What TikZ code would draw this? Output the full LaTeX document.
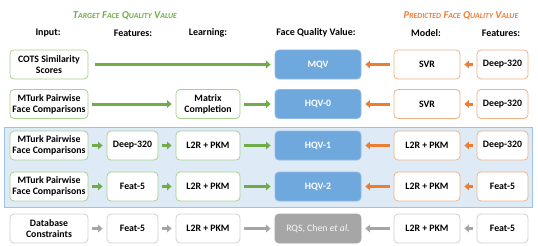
\documentclass[tikz,border=0pt]{standalone}
\usepackage{fontspec}
\setmainfont{Carlito}
\usetikzlibrary{arrows.meta,positioning}

\definecolor{grnline}{HTML}{70AD47}
\definecolor{grnbox}{HTML}{A9D18E}
\definecolor{orgline}{HTML}{ED7D31}
\definecolor{orgbox}{HTML}{F4B183}
\definecolor{bluebox}{HTML}{6FA8DC}
\definecolor{bluepanel}{HTML}{DEEBF7}
\definecolor{blueedge}{HTML}{9DC3E6}
\definecolor{gryline}{HTML}{A5A5A5}
\definecolor{grybox}{HTML}{D0D0D0}
\definecolor{gryfill}{HTML}{A6A6A6}

\newcommand{\fsc}[2]{#1{\fontsize{7.8}{8}\selectfont #2}}

\tikzset{
  box/.style={draw,rounded corners=4pt,fill=white,line width=0.8pt,
    minimum height=29pt,align=center,inner sep=1pt,
    font=\fontsize{9.8}{11}\selectfont\bfseries},
  gbox/.style={box,draw=grnbox},
  obox/.style={box,draw=orgbox},
  wbox/.style={box,draw=grybox},
  qbox/.style={box,draw=blueedge!70!bluebox,fill=bluebox,text=white,
    minimum width=86pt},
  rbox/.style={box,draw=gryfill,fill=gryfill,text=white!92!gryfill,
    minimum width=86pt,font=\fontsize{9.8}{11}\selectfont},
  blk/.style={-{Triangle[length=4.5pt,width=7.5pt]},line width=3pt,
    shorten >=4pt,shorten <=4pt},
  garrow/.style={blk,grnline},
  oarrow/.style={blk,orgline},
  warrow/.style={blk,gryline},
  head/.style={font=\fontsize{10}{12}\selectfont\bfseries},
  title/.style={font=\fontsize{10.5}{12}\selectfont\bfseries\itshape}
}

\begin{document}
\begin{tikzpicture}[x=1pt,y=-1pt]
  \useasboundingbox (0,0) rectangle (538,246);
  % highlighted panel
  \fill[bluepanel] (4,127) rectangle (532,207);
  \draw[blueedge,line width=0.7pt] (4,127) rectangle (532,207);

  % titles and column heads
  \node[title,text=grnline] (tgt) at (125,16) {\fsc{T}{ARGET} \fsc{F}{ACE} \fsc{Q}{UALITY} \fsc{V}{ALUE}};
  \node[title,text=orgline] (pred) at (461,16) {\fsc{P}{REDICTED} \fsc{F}{ACE} \fsc{Q}{UALITY} \fsc{V}{ALUE}};
  \node[head] (hin) at (48,33) {Input:};
  \node[head] (hfeat) at (133,33) {Features:};
  \node[head] (hlearn) at (208,33) {Learning:};
  \node[head] (hfqv) at (316,33) {Face Quality Value:};
  \node[head] (hmodel) at (426,33) {Model:};
  \node[head] (hpfeat) at (501,33) {Features:};

  % row 1
  \node[gbox,minimum width=78pt] (in1) at (49,64.5) {COTS Similarity\\Scores};
  \node[qbox] (q1) at (318,64.5) {MQV};
  \node[obox,minimum width=66pt] (m1) at (427,64.5) {SVR};
  \node[obox,minimum width=51pt] (f1) at (502.5,64.5) {Deep-320};
  \draw[garrow,shorten <=7pt] (in1) -- (q1);
  \draw[oarrow] (m1) -- (q1);
  \draw[oarrow] (f1) -- (m1);

  % row 2
  \node[gbox,minimum width=78pt] (in2) at (49,104) {MTurk Pairwise\\Face Comparisons};
  \node[gbox,minimum width=64pt] (l2) at (208,104) {Matrix\\Completion};
  \node[qbox] (q2) at (318,104) {HQV-0};
  \node[obox,minimum width=66pt] (m2) at (427,104) {SVR};
  \node[obox,minimum width=51pt] (f2) at (502.5,104) {Deep-320};
  \draw[garrow] (in2) -- (l2);
  \draw[garrow] (l2) -- (q2);
  \draw[oarrow] (m2) -- (q2);
  \draw[oarrow] (f2) -- (m2);

  % row 3
  \node[gbox,minimum width=78pt] (in3) at (49,145.5) {MTurk Pairwise\\Face Comparisons};
  \node[gbox,minimum width=51pt] (e3) at (132.5,145.5) {Deep-320};
  \node[gbox,minimum width=64pt] (l3) at (208,145.5) {L2R + PKM};
  \node[qbox] (q3) at (318,145.5) {HQV-1};
  \node[obox,minimum width=66pt] (m3) at (427,145.5) {L2R + PKM};
  \node[obox,minimum width=51pt] (f3) at (502.5,145.5) {Deep-320};
  \draw[garrow] (in3) -- (e3);
  \draw[garrow] (e3) -- (l3);
  \draw[garrow] (l3) -- (q3);
  \draw[oarrow] (m3) -- (q3);
  \draw[oarrow] (f3) -- (m3);

  % row 4
  \node[gbox,minimum width=78pt] (in4) at (49,186.5) {MTurk Pairwise\\Face Comparisons};
  \node[gbox,minimum width=51pt] (e4) at (132.5,186.5) {Feat-5};
  \node[gbox,minimum width=64pt] (l4) at (208,186.5) {L2R + PKM};
  \node[qbox] (q4) at (318,186.5) {HQV-2};
  \node[obox,minimum width=66pt] (m4) at (427,186.5) {L2R + PKM};
  \node[obox,minimum width=51pt] (f4) at (502.5,186.5) {Feat-5};
  \draw[garrow] (in4) -- (e4);
  \draw[garrow] (e4) -- (l4);
  \draw[garrow] (l4) -- (q4);
  \draw[oarrow] (m4) -- (q4);
  \draw[oarrow] (f4) -- (m4);

  % row 5
  \node[wbox,minimum width=78pt] (in5) at (49,228.5) {Database\\Constraints};
  \node[wbox,minimum width=51pt] (e5) at (132.5,228.5) {Feat-5};
  \node[wbox,minimum width=64pt] (l5) at (208,228.5) {L2R + PKM};
  \node[rbox] (q5) at (318,228.5) {RQS, Chen \textit{et al.}};
  \node[wbox,minimum width=66pt] (m5) at (427,228.5) {L2R + PKM};
  \node[wbox,minimum width=51pt] (f5) at (502.5,228.5) {Feat-5};
  \draw[warrow] (in5) -- (e5);
  \draw[warrow] (e5) -- (l5);
  \draw[warrow] (l5) -- (q5);
  \draw[warrow] (m5) -- (q5);
  \draw[warrow] (f5) -- (m5);
\end{tikzpicture}
\end{document}
